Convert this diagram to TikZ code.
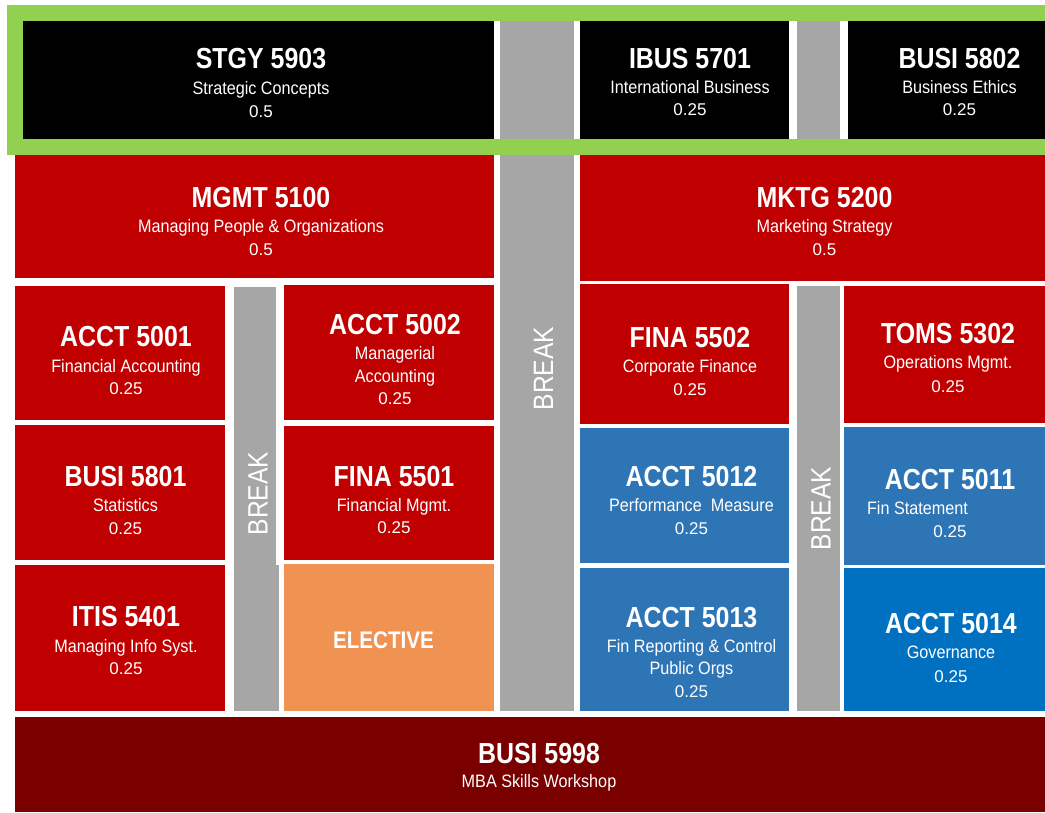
\documentclass[tikz,border=0pt]{standalone}
\usepackage{fontspec}
\setmainfont{Liberation Sans}
\newfontfamily\ttlfam[FakeStretch=0.86]{Liberation Sans}
\newfontfamily\sbtfam[FakeStretch=0.9]{Liberation Sans}
\newfontfamily\brkfam[FakeStretch=0.88]{Liberation Sans}
\definecolor{grn}{RGB}{146,208,80}
\definecolor{crd}{RGB}{192,0,0}
\definecolor{gry}{RGB}{166,166,166}
\definecolor{org}{RGB}{240,146,82}
\definecolor{blu}{RGB}{46,117,182}
\definecolor{bluB}{RGB}{0,112,192}
\definecolor{drd}{RGB}{122,0,0}
\newcommand\crsbox[1]{\vbox{\offinterlineskip\halign{\hfil##\hfil\cr#1}}}
\newcommand\ttl[1]{\rule{0pt}{21pt}\smash{\fontsize{29}{29}\ttlfam\bfseries #1}\cr}
\newcommand\sbt[2][25]{\rule{0pt}{#1pt}\smash{\fontsize{18}{18}\sbtfam #2}\cr}
\newcommand\nmb[2][23]{\rule{0pt}{#1pt}\smash{\fontsize{17}{17}\selectfont #2}\cr}
\tikzset{
  txt/.style={text=white, inner sep=0pt, anchor=north},
  brk/.style={text=white, inner sep=0pt, rotate=90, font=\brkfam\fontsize{28}{28}\selectfont},
  blackbox/.style={fill=black},
  redbox/.style={fill=crd},
  graybox/.style={fill=gry},
  bluebox/.style={fill=blu}
}
\begin{document}
\begin{tikzpicture}[x=1pt,y=-1pt]
\useasboundingbox[fill=white] (0,0) rectangle (1045,812);
% top band
\fill[grn] (7,5) rectangle (1045,155);
\fill[white] (23,21) rectangle (1045,139);
% centre break column
\fill[graybox] (500,21) rectangle (574,711);
\fill[grn] (7,139) rectangle (1045,155);
% top row
\fill[blackbox] (23,21) rectangle (494,139);
\fill[blackbox] (580,21) rectangle (789,139);
\fill[graybox] (797,21) rectangle (840,139);
\fill[blackbox] (848,21) rectangle (1045,139);
% second row
\fill[redbox] (15,155) rectangle (494,278);
\fill[redbox] (580,155) rectangle (1045,281);
% left block
\fill[redbox] (15,286) rectangle (225,420);
\fill[redbox] (15,425) rectangle (225,560);
\fill[redbox] (15,565) rectangle (225,711);
\fill[graybox] (234,287) rectangle (276,711);
\fill[graybox] (234,565) rectangle (279,711);
\fill[redbox] (284,285) rectangle (494,420);
\fill[redbox] (284,426) rectangle (494,560);
\fill[org] (284,564) rectangle (494,711);
% right block
\fill[redbox] (580,284) rectangle (789,424);
\fill[bluebox] (580,428) rectangle (789,563);
\fill[bluebox] (580,568) rectangle (789,711);
\fill[graybox] (797,286) rectangle (840,711);
\fill[redbox] (844,286) rectangle (1045,423);
\fill[bluebox] (844,427) rectangle (1045,565);
\fill[bluB] (844,568) rectangle (1045,711);
% bottom
\fill[drd] (15,717) rectangle (1045,812);

% texts
\node[txt] (stgy) at (261,47) {\crsbox{\ttl{STGY 5903}\sbt[26]{Strategic Concepts}\nmb{0.5}}};
\node[txt] (ibus) at (690,47) {\crsbox{\ttl{IBUS 5701}\sbt{International Business}\nmb[22]{0.25}}};
\node[txt] (busiA) at (959.5,47) {\crsbox{\ttl{BUSI 5802}\sbt{Business Ethics}\nmb[22]{0.25}}};
\node[txt] (mgmt) at (261,186) {\crsbox{\ttl{MGMT 5100}\sbt{Managing People \& Organizations}\nmb{0.5}}};
\node[txt] (mktg) at (824.5,186) {\crsbox{\ttl{MKTG 5200}\sbt{Marketing Strategy}\nmb{0.5}}};
\node[txt] (acctA) at (126,325) {\crsbox{\ttl{ACCT 5001}\sbt[26]{Financial Accounting}\nmb[22]{0.25}}};
\node[txt] (busiB) at (125.5,465) {\crsbox{\ttl{BUSI 5801}\sbt{Statistics}\nmb{0.25}}};
\node[txt] (itis) at (126,605) {\crsbox{\ttl{ITIS 5401}\sbt[26]{Managing Info Syst.}\nmb[22]{0.25}}};
\node[txt] (acctB) at (395,313) {\crsbox{\ttl{ACCT 5002}\sbt{Managerial}\sbt[23]{Accounting}\nmb[22]{0.25}}};
\node[txt] (finaA) at (394,465) {\crsbox{\ttl{FINA 5501}\sbt{Financial Mgmt.}\nmb[22]{0.25}}};
\node[txt, font=\fontsize{24}{24}\ttlfam\bfseries] (elec) at (383.5,632) {ELECTIVE};
\node[txt] (finaB) at (690,326) {\crsbox{\ttl{FINA 5502}\sbt{Corporate Finance}\nmb{0.25}}};
\node[txt] (acctC) at (691.5,465) {\crsbox{\ttl{ACCT 5012}\sbt{Performance~ Measure}\nmb{0.25}}};
\node[txt] (acctD) at (691.5,606) {\crsbox{\ttl{ACCT 5013}\sbt{Fin Reporting \& Control}\sbt[22]{Public Orgs}\nmb{0.25}}};
\node[txt] (toms) at (948,322) {\crsbox{\ttl{TOMS 5302}\sbt{Operations Mgmt.}\nmb[24]{0.25}}};
\node[txt] (acctE) at (950,468) {\crsbox{\ttl{ACCT 5011}\sbt{Fin Statement\hspace*{65pt}}\nmb{0.25}}};
\node[txt] (acctF) at (951,612) {\crsbox{\ttl{ACCT 5014}\sbt{Governance}\nmb[24]{0.25}}};
\node[txt] (busiC) at (539,742) {\crsbox{\ttl{BUSI 5998}\sbt[24]{MBA Skills Workshop}}};
% breaks
\node[brk] (brkL) at (258,493.5) {BREAK};
\node[brk] (brkC) at (543.5,368.5) {BREAK};
\node[brk] (brkR) at (821,508.5) {BREAK};
\end{tikzpicture}
\end{document}
